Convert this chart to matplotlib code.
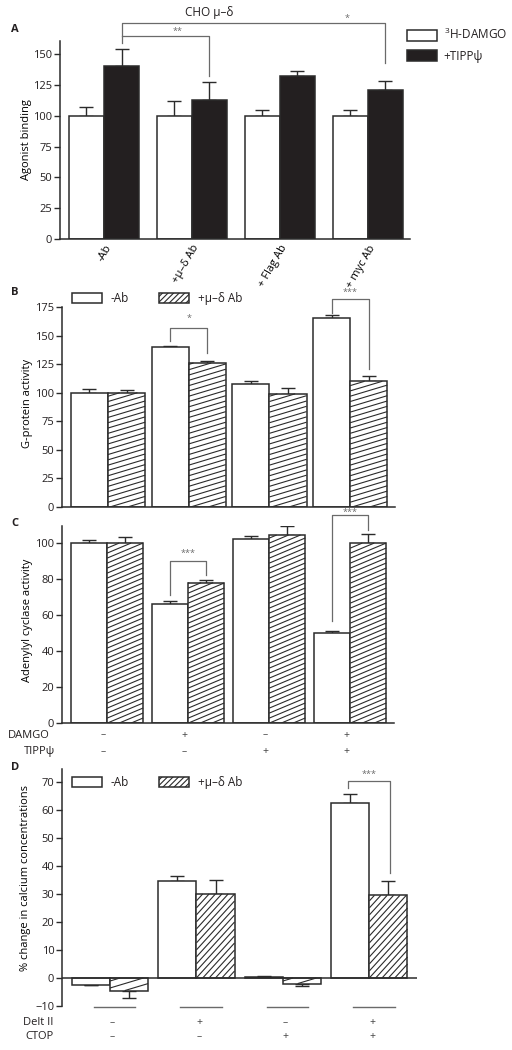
"""Four-panel bar figure: agonist binding, G-protein, adenylyl cyclase, calcium."""

import matplotlib
matplotlib.use("Agg")
import matplotlib.pyplot as plt
import numpy as np
from matplotlib.collections import LineCollection
from matplotlib.patches import Patch
from matplotlib.transforms import IdentityTransform, blended_transform_factory

plt.rcParams['font.family'] = ['Open Sans', 'DejaVu Sans']
plt.rcParams['mathtext.default'] = 'regular'
plt.rcParams['text.color'] = '#231f20'

# --- data -------------------------------------------------------------
a_groups = ["-Ab", "+μ–δ Ab", "+ Flag Ab", "+ myc Ab"]
a_damgo = [100, 100, 100, 100]
a_damgo_err = [7, 12, 5, 5]
a_tipp = [140, 113, 132, 121]
a_tipp_err = [14, 14, 4, 7]

b_noab = [100, 140, 108, 165]
b_noab_err = [3, 1, 2, 3]
b_ab = [100, 126, 99, 110]
b_ab_err = [2, 2, 5, 5]

c_noab = [100, 66, 102, 50]
c_noab_err = [1.5, 2, 2, 1]
c_ab = [100, 78, 104.5, 100]
c_ab_err = [3.5, 1.5, 5, 5]
c_damgo = ["–", "+", "–", "+"]
c_tipp = ["–", "–", "+", "+"]

d_noab = [-2.5, 34.5, 0.3, 62.5]
d_noab_err = [0, 2, 0.3, 3]
d_ab = [-4.5, 30, -2, 29.5]
d_ab_err = [2.8, 5, 1, 5]
d_delt = ["–", "+", "–", "+"]
d_ctop = ["–", "–", "+", "+"]

EDGE = "#2b2b2b"
BRK = "#6a6a6a"
FS = 8
W, H = 512, 1050

fig = plt.figure(figsize=(W / 100, H / 100), dpi=100)


def px_axes(x0, x1, ytop, ybot):
    return fig.add_axes([x0 / W, 1 - ybot / H, (x1 - x0) / W, (ybot - ytop) / H])


def style(ax, yticks):
    for s in ("top", "right"):
        ax.spines[s].set_visible(False)
    for s in ("left", "bottom"):
        ax.spines[s].set_linewidth(1.1)
        ax.spines[s].set_color(EDGE)
    ax.set_yticks(yticks)
    ax.tick_params(axis="y", length=4, width=1.0, pad=1.5, labelsize=FS,
                   color=EDGE, labelcolor="#231f20")
    ax.tick_params(axis="x", length=0)


def errbars(ax, x, vals, errs):
    vals = np.asarray(vals, float)
    errs = np.asarray(errs, float)
    lo = np.where(vals < 0, errs, 0)
    hi = np.where(vals >= 0, errs, 0)
    ax.errorbar(x, vals, yerr=[lo, hi], fmt="none", ecolor=EDGE,
                elinewidth=1.0, capsize=5.3, capthick=1.0, zorder=1)


def hatch(ax, bars, slope, step, slope_small=None):
    # diagonal lines in pixel space, cut to each bar's rectangle
    for b in bars:
        x0, y0 = ax.transData.transform((b.get_x(), b.get_y()))
        x1, y1 = ax.transData.transform((b.get_x() + b.get_width(),
                                         b.get_y() + b.get_height()))
        y0, y1 = min(y0, y1), max(y0, y1)
        k = slope if (slope_small is None or y1 - y0 > 30) else slope_small
        segs = []
        for c in np.arange(y0 - k * (x1 - x0), y1, step):
            xa = max(x0, x0 + (y0 - c) / k)
            xb = min(x1, x0 + (y1 - c) / k)
            if xb - xa > 0.5:
                segs.append([(xa, c + k * (xa - x0)), (xb, c + k * (xb - x0))])
        lc = LineCollection(segs, transform=IdentityTransform(),
                            colors=EDGE, linewidths=0.8, zorder=2.5)
        ax.add_collection(lc, autolim=False)


def bracket(ax, xl, xr, ytop, yl, yr, label, ty):
    ax.plot([xl, xl, xr, xr], [yl, ytop, ytop, yr], color=BRK, lw=0.9,
            clip_on=False, zorder=4)
    ax.text((xl + xr) / 2, ty, label, ha="center", va="center",
            fontsize=6.5, color=BRK, clip_on=False, zorder=5)


def hatched_legend(ax, x, y):
    handles = [Patch(facecolor="white", edgecolor=EDGE, lw=1.1, label="-Ab"),
               Patch(facecolor="white", edgecolor=EDGE, lw=1.1, hatch="//////",
                     label="+μ–δ Ab")]
    plt.rcParams["hatch.color"] = EDGE
    plt.rcParams["hatch.linewidth"] = 0.8
    ax.legend(handles=handles, ncol=2, frameon=False, fontsize=8.5,
              handlelength=2.5, handleheight=0.95, handletextpad=0.75,
              columnspacing=2.6, borderpad=0, borderaxespad=0,
              loc="center left", bbox_to_anchor=(x / W, 1 - y / H),
              bbox_transform=fig.transFigure)


def bars_pair(ax, xs, left, right, width, left_color, right_color):
    b1 = ax.bar(xs - width / 2, left, width, color=left_color, edgecolor=EDGE,
                lw=1.1, zorder=2)
    b2 = ax.bar(xs + width / 2, right, width, color=right_color,
                edgecolor=EDGE, lw=1.1, zorder=2)
    return b1, b2


# ---------------- A ----------------
axA = px_axes(60, 410, 41, 239)
xs = np.arange(len(a_groups))
wA = 0.4
bars_pair(axA, xs, a_damgo, a_tipp, wA, "white", "#231f20")
errbars(axA, xs - wA / 2, a_damgo, a_damgo_err)
errbars(axA, xs + wA / 2, a_tipp, a_tipp_err)
axA.set_xlim(-0.5, 3.48)
axA.set_ylim(0, 160.6)
style(axA, [0, 25, 50, 75, 100, 125, 150])
axA.set_xticks(xs)
axA.set_xticklabels(a_groups, rotation=60, ha="right", va="top",
                    rotation_mode="anchor", fontsize=FS)
axA.tick_params(axis="x", pad=3)
axA.set_ylabel("Agonist binding", fontsize=FS)
axA.yaxis.set_label_coords(-0.08, 0.5)
axA.plot([0.2, 0.2, 3.2, 3.2], [159, 175, 175, 143], color=BRK, lw=0.9,
         clip_on=False)
axA.plot([0.2, 1.2, 1.2], [164.6, 164.6, 132], color=BRK, lw=0.9,
         clip_on=False)
axA.text(2.76, 179, "*", ha="center", va="center", fontsize=6.5, color=BRK)
axA.text(0.84, 168.5, "**", ha="center", va="center", fontsize=6.5, color=BRK)
axA.text(1.2, 184, "CHO μ–δ", ha="center", va="center", fontsize=8.5)
axA.legend(handles=[Patch(facecolor="white", edgecolor=EDGE, lw=1.1,
                          label="$^{3}$H-DAMGO"),
                    Patch(facecolor="#231f20", edgecolor=EDGE, lw=1.1,
                          label="+TIPPψ")],
           frameon=False, fontsize=8.5, handlelength=2.5, handleheight=1.05,
           handletextpad=0.6, labelspacing=0.65, borderpad=0, borderaxespad=0,
           loc="upper left", bbox_to_anchor=(407 / W, 1 - 27 / H),
           bbox_transform=fig.transFigure)

# ---------------- B ----------------
axB = px_axes(62, 395, 307, 507)
wB = 0.46
b1, b2 = bars_pair(axB, xs, b_noab, b_ab, wB, "white", "white")
errbars(axB, xs - wB / 2, b_noab, b_noab_err)
errbars(axB, xs + wB / 2, b_ab, b_ab_err)
axB.set_xlim(-0.57, 3.556)
axB.set_ylim(0, 175)
style(axB, [0, 25, 50, 75, 100, 125, 150, 175])
axB.set_xticks([])
axB.set_ylabel("G-protein activity", fontsize=FS)
axB.yaxis.set_label_coords(-0.087, 0.52)
hatch(axB, b2, 0.3, 5.3)
bracket(axB, 1 - wB / 2, 1 + wB / 2, 157, 145.6, 135, "*", 165)
bracket(axB, 3 - wB / 2, 3 + wB / 2, 182, 170, 121, "***", 187.5)
hatched_legend(axB, 72, 298.5)

# ---------------- C ----------------
axC = px_axes(62, 394, 526, 723)
wC = 0.445
c1, c2 = bars_pair(axC, xs, c_noab, c_ab, wC, "white", "white")
errbars(axC, xs - wC / 2, c_noab, c_noab_err)
errbars(axC, xs + wC / 2, c_ab, c_ab_err)
axC.set_xlim(-0.556, 3.54)
axC.set_ylim(0, 109.5)
style(axC, [0, 20, 40, 60, 80, 100])
axC.set_xticks([])
axC.set_ylabel("Adenylyl cyclase activity", fontsize=FS)
axC.yaxis.set_label_coords(-0.087, 0.52)
hatch(axC, c2, 0.42, 5.0)
bracket(axC, 1 - wC / 2, 1 + wC / 2, 90, 71, 82, "***", 94.5)
bracket(axC, 3 - wC / 2, 3 + wC / 2, 115.5, 56.7, 107, "***", 117.3)
trC = blended_transform_factory(axC.transAxes, axC.transData)
axC.text(-0.036, -6.7, "DAMGO", transform=trC, ha="right", va="center",
         fontsize=FS)
axC.text(-0.02, -16, "TIPPψ", transform=trC, ha="right", va="center",
         fontsize=FS)
for i, (dm, tp) in enumerate(zip(c_damgo, c_tipp)):
    axC.text(xs[i] - 0.05, -6.7, dm, ha="center", va="center", fontsize=7.5,
             color="#444", clip_on=False)
    axC.text(xs[i] - 0.05, -16, tp, ha="center", va="center", fontsize=7.5,
             color="#444", clip_on=False)

# ---------------- D ----------------
axD = px_axes(62, 417, 769, 1006)
wD = 0.44
d1, d2 = bars_pair(axD, xs, d_noab, d_ab, wD, "white", "white")
errbars(axD, xs - wD / 2, d_noab, d_noab_err)
errbars(axD, xs + wD / 2, d_ab, d_ab_err)
axD.set_xlim(-0.555, 3.55)
axD.set_ylim(-10, 74.6)
style(axD, [-10, 0, 10, 20, 30, 40, 50, 60, 70])
axD.spines["bottom"].set_visible(False)
axD.axhline(0, color=EDGE, lw=1.1, zorder=3)
axD.set_xticks([])
axD.set_ylabel("% change in calcium concentrations", fontsize=FS)
axD.yaxis.set_label_coords(-0.087, 0.54)
hatch(axD, d2, 1.1, 7.0, slope_small=0.3)
bracket(axD, 3 - wD / 2 - 0.03, 3 + wD / 2 + 0.02, 70.4, 67.9, 37.5, "***", 72.6)
for i, (dl, ct) in enumerate(zip(d_delt, d_ctop)):
    axD.plot([xs[i] - 0.19, xs[i] + 0.29], [-10.4, -10.4], color=BRK, lw=1.0,
             clip_on=False)
    axD.text(xs[i] + 0.03, -16, dl, ha="center", va="center", fontsize=7.5,
             color="#444", clip_on=False)
    axD.text(xs[i] + 0.03, -21, ct, ha="center", va="center", fontsize=7.5,
             color="#444", clip_on=False)
trD = blended_transform_factory(axD.transAxes, axD.transData)
axD.text(-0.025, -16, "Delt II", transform=trD, ha="right", va="center",
         fontsize=FS)
axD.text(-0.025, -21, "CTOP", transform=trD, ha="right", va="center",
         fontsize=FS)
hatched_legend(axD, 72, 782.5)

# panel letters
for letter, y in (("A", 30), ("B", 292), ("C", 523), ("D", 768)):
    fig.text(15 / W, 1 - y / H, letter, fontsize=8, fontweight="bold",
             ha="center", va="center")

fig.savefig("out.png", dpi=100)
